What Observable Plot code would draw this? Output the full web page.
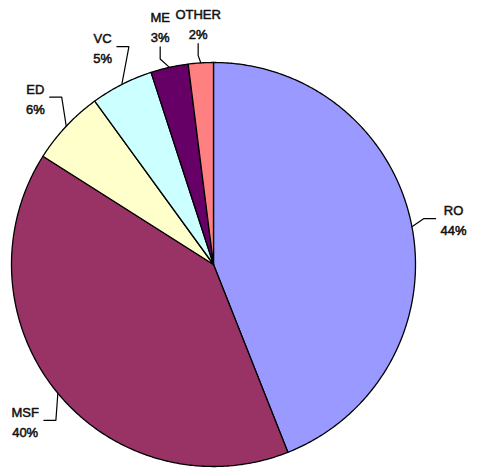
<!DOCTYPE html>
<html>
<head>
<meta charset="utf-8">
<script src="https://cdn.jsdelivr.net/npm/d3@7"></script>
<script src="https://cdn.jsdelivr.net/npm/@observablehq/plot@0.6"></script>
<style>
  html, body { margin: 0; padding: 0; background: #fff; }
</style>
</head>
<body>
<div id="chart"></div>
<script>
// ---- data ----
const categories = ["RO", "MSF", "ED", "VC", "ME", "OTHER"];
const values = [44, 40, 6, 5, 3, 2];
const colors = ["#9999ff", "#993366", "#ffffcc", "#ccffff", "#660066", "#ff8080"];

// ---- layout ----
const W = 479, H = 470;
const R = 202;              // pie radius in px (1 data unit = 1 px)
const CX = 213, CY = 264;   // pie centre in px
const FONT = "'Liberation Sans', Arial, sans-serif";
const FS = 13, LINE = 20;

const total = d3.sum(values);
const rows = categories.map((name, i) => ({
  name, value: values[i], pct: Math.round(values[i] / total * 100) + "%"
}));
const arcs = d3.pie().sort(null).value(d => d.value)(rows);

// slice outlines sampled along the arc
const slicePts = arcs.flatMap(a => {
  const n = Math.max(2, Math.ceil((a.endAngle - a.startAngle) / (Math.PI / 360)));
  const pts = [{name: a.data.name, x: 0, y: 0}];
  for (let k = 0; k <= n; k++) {
    const t = a.startAngle + (a.endAngle - a.startAngle) * k / n;
    pts.push({name: a.data.name, x: R * Math.sin(t), y: R * Math.cos(t)});
  }
  return pts;
});

// label placement
const ctx = document.createElement("canvas").getContext("2d");
ctx.font = `${FS}px ${FONT}`;
const labels = [], leaders = [];
arcs.forEach(a => {
  const m = (a.startAngle + a.endAngle) / 2;
  const s = Math.sin(m), c = Math.cos(m);
  const ex = R * s, ey = R * c;
  const tw = Math.max(ctx.measureText(a.data.name).width, ctx.measureText(a.data.pct).width);
  const hw = tw / 2 + 5;
  let lx = 1.21 * R * s, ly = 1.21 * R * c;
  // keep inside the picture
  lx = Math.max(-CX + 4 + tw / 2, Math.min(W - CX - 4 - tw / 2, lx));
  ly = Math.min(CY - 6 - 16, Math.max(-(H - CY) + 6 + 16, ly));
  labels.push({name: a.data.name, text: a.data.name + "\n" + a.data.pct, x: lx, y: ly});
  let pts;
  if (Math.abs(ex - lx) < hw) {
    const dir = c > 0 ? 1 : -1;
    const by = ly - dir * 21;
    pts = [[ex, ey], [lx, by - dir * 12], [lx, by]];
  } else {
    const side = lx > ex ? 1 : -1;
    const endx = lx - side * hw;
    pts = [[ex, ey], [endx - side * 12, ly], [endx, ly]];
  }
  pts.forEach(([x, y]) => leaders.push({name: a.data.name, x, y}));
});

const chart = Plot.plot({
  width: W,
  height: H,
  marginLeft: CX - R,
  marginRight: W - CX - R,
  marginTop: CY - R,
  marginBottom: H - CY - R,
  x: {domain: [-R, R], axis: null},
  y: {domain: [-R, R], axis: null},
  color: {type: "ordinal", domain: categories, range: colors},
  style: {fontFamily: FONT, fontSize: FS + "px", background: "#fff", overflow: "visible"},
  marks: [
    Plot.line(slicePts, {x: "x", y: "y", z: "name", fill: "name", stroke: "#000",
      strokeWidth: 1.3, curve: "linear-closed", strokeLinejoin: "round"}),
    Plot.line(leaders, {x: "x", y: "y", z: "name", stroke: "#000", strokeWidth: 1.2, fill: "none"}),
    Plot.text(labels, {x: "x", y: "y", text: "text", fill: "#111", stroke: "#111",
      strokeWidth: 0.5, fontSize: FS, lineHeight: LINE / FS,
      textAnchor: "middle", lineAnchor: "middle"})
  ]
});
document.getElementById("chart").appendChild(chart);
</script>
</body>
</html>
